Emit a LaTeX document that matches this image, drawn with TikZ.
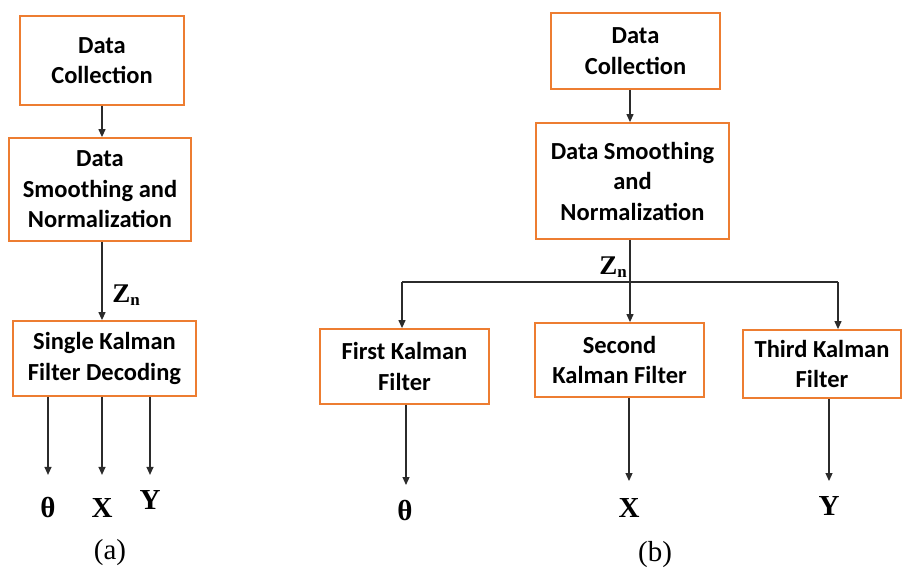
\documentclass[tikz,border=0pt]{standalone}
\usepackage{fontspec}
\setmainfont{Carlito}
\newfontfamily\lblfont{Liberation Serif}
\usetikzlibrary{arrows.meta}
\definecolor{boxor}{HTML}{ED7D31}
\definecolor{lncol}{HTML}{2B2B2B}
\tikzset{
  box/.style={draw=boxor, line width=1.8pt, fill=white, align=center,
    font=\fontsize{24.5}{30.5}\selectfont\bfseries, inner sep=0pt},
  conn/.style={draw=lncol, line width=1.2pt},
  arr/.style={conn, -{Triangle[length=8pt,width=7pt]}},
  outl/.style={font=\lblfont\fontsize{29}{29}\selectfont\bfseries, inner sep=0pt},
  zlab/.style={font=\lblfont\fontsize{27}{27}\selectfont\bfseries, inner sep=0pt},
  captext/.style={font=\lblfont\fontsize{29}{29}\selectfont, inner sep=0pt}
}
\newcommand{\zn}{Z{\fontsize{17}{17}\selectfont\raisebox{-3pt}{n}}}
\begin{document}
\begin{tikzpicture}[x=1pt,y=-1pt]
\useasboundingbox (0,0) rectangle (905,573);
% ---------- panel (a)
\node[box, minimum width=164pt, minimum height=89pt] (dca) at (102,60.5) {Data\\Collection};
\node[box, minimum width=182pt, minimum height=103pt] (sma) at (100,189.5) {Data\\Smoothing and\\Normalization};
\node[box, minimum width=183pt, minimum height=75pt] (ska) at (104.5,358.5) {Single Kalman\\Filter Decoding};
\node[zlab] (zna) at (126,295) {\zn};
\node[outl] (tha) at (48,507) {θ};
\node[outl] (xa) at (102,508) {X};
\node[outl] (ya) at (150,500) {Y};
\node[captext] (capa) at (110,553) {(a)};
\draw[arr] (dca.south) -- (dca.south |- sma.north);
\draw[arr] (sma.south -| dca.south) -- (ska.north -| dca.south);
\draw[arr] (ska.south -| tha) -- ++(0,78);
\draw[arr] (ska.south -| xa) -- ++(0,78);
\draw[arr] (ska.south -| ya) -- ++(0,78);
% ---------- panel (b)
\node[box, minimum width=169pt, minimum height=76pt] (dcb) at (635.5,51) {Data\\Collection};
\node[box, minimum width=193pt, minimum height=116pt] (smb) at (632.5,181) {Data Smoothing\\and\\Normalization};
\node[box, minimum width=169pt, minimum height=75pt] (fk) at (404.5,366.5) {First Kalman\\Filter};
\node[box, minimum width=169pt, minimum height=74pt] (sk) at (619.5,360) {Second\\Kalman Filter};
\node[box, minimum width=158pt, minimum height=68pt] (tk) at (822,364) {Third Kalman\\Filter};
\node[zlab] (znb) at (613,267) {\zn};
\node[outl] (thb) at (405,510) {θ};
\node[outl] (xb) at (629,508) {X};
\node[outl] (yb) at (829,506) {Y};
\node[captext] (capb) at (655,555) {(b)};
\coordinate (bm) at (630,282);
\coordinate (bl) at (402,282);
\coordinate (br) at (838,282);
\draw[arr] (dcb.south -| bm) -- (smb.north -| bm);
\draw[conn] (smb.south -| bm) -- (bm);
\draw[conn] (bl) -- (br);
\draw[arr] (bl) -- (bl |- fk.north);
\draw[arr] (bm) -- (bm |- sk.north);
\draw[arr] (br) -- (br |- tk.north);
\draw[arr] (fk.south -| 406,0) -- (406,485);
\draw[arr] (sk.south -| xb) -- (xb |- 0,481);
\draw[arr] (tk.south -| yb) -- (yb |- 0,481);
\end{tikzpicture}
\end{document}
